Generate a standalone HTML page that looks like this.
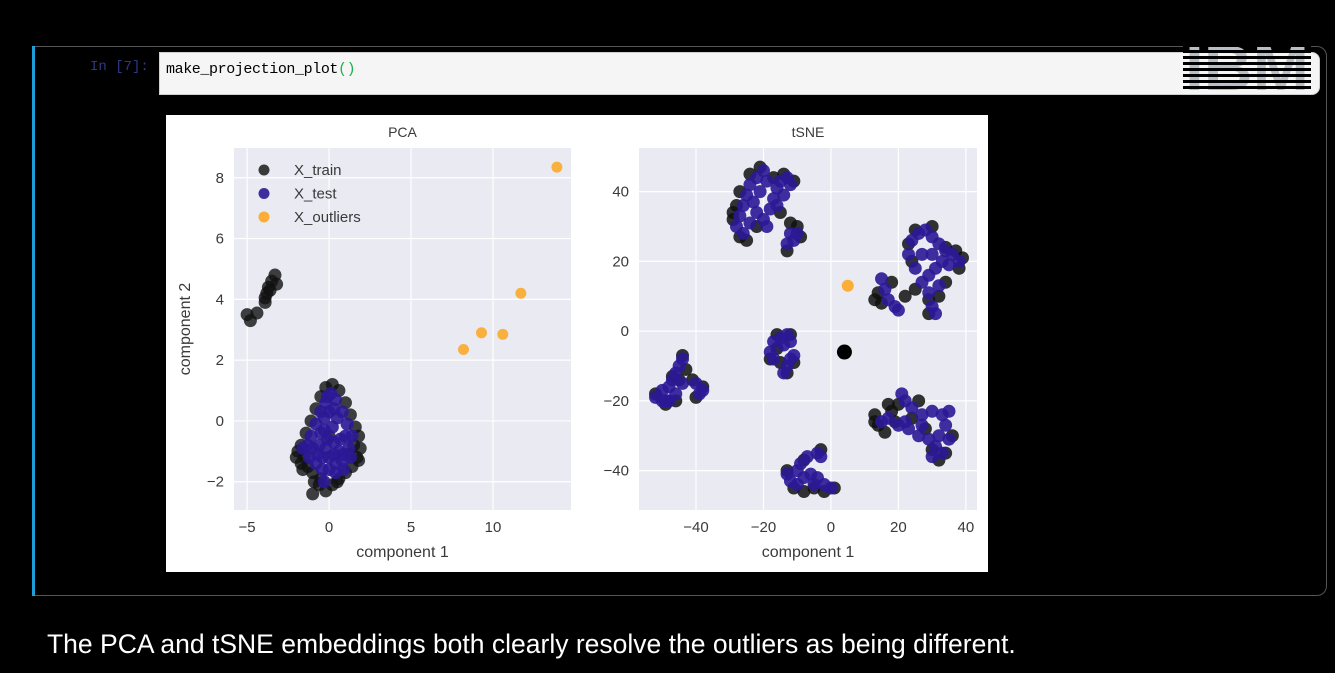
<!DOCTYPE html>
<html><head><meta charset="utf-8">
<style>
html,body{margin:0;padding:0;background:#000;width:1335px;height:673px;overflow:hidden;font-family:"Liberation Sans",sans-serif}
#cell{position:absolute;left:35px;top:46px;width:1291px;height:548px;border:1px solid #555;border-left:none;border-radius:0 10px 10px 0}
#bar{position:absolute;left:32px;top:46px;width:3px;height:550px;background:#1e9fd8}
#prompt{position:absolute;left:90px;top:59px;font:14px "Liberation Mono",monospace;color:#2c3a80}
#input{position:absolute;left:159px;top:52px;width:1161px;height:43px;background:#f5f5f5;border:1px solid #cfcfcf;border-radius:0 8px 8px 0;box-sizing:border-box}
#code{position:absolute;left:6px;top:8px;font:15px "Liberation Mono",monospace;color:#000;letter-spacing:-0.4px}
#caption{position:absolute;left:47px;top:629px;font-size:26.5px;color:#fff}
</style></head><body>
<div id="bar"></div>
<div id="cell"></div>
<div id="prompt">In [7]:</div>
<div id="input"><div id="code">make_projection_plot<span style="color:#1bb34a">()</span></div></div>
<svg style="position:absolute;left:1183px;top:40px" width="128" height="54">
<text x="64" y="50" text-anchor="middle" font-family="Liberation Sans" font-weight="bold" font-size="64" fill="#b8bec8" textLength="124" lengthAdjust="spacingAndGlyphs">IBM</text>
<g fill="#000"><rect x="0" y="4" width="128" height="3"/><rect x="0" y="10" width="128" height="3"/><rect x="0" y="16" width="128" height="3"/><rect x="0" y="22" width="128" height="3"/><rect x="0" y="28" width="128" height="3"/><rect x="0" y="34" width="128" height="3"/><rect x="0" y="40" width="128" height="3"/><rect x="0" y="46" width="128" height="3"/></g>
</svg>
<svg id="fig" style="position:absolute;left:0;top:0" width="1335" height="673">
<rect x="166" y="115" width="822" height="457" fill="#fff"/>
</svg>
<div id="caption">The PCA and tSNE embeddings both clearly resolve the outliers as being different.</div>
<script>
// PCA data
const pcaXTicks=[-5,0,5,10];
const pcaYTicks=[-2,0,2,4,6,8];
const pcaTrain=[[-5,3.5],[-4.8,3.3],[-4.4,3.55],[-3.9,3.9],[-3.8,4.2],[-3.7,4.4],[-3.5,4.6],[-3.3,4.8],[-3.2,4.5],[-3.6,4.3],[-3.9,4.05],
[-2.0,-1.2],[-1.9,-1.0],[-1.7,-1.4],[-1.3,-1.5],[-1.0,-1.7],[-0.9,-2.0],[-1.0,-2.4],[-0.2,-2.3],[0.2,-2.1],[0.6,-1.9],[1.0,-1.7],[1.4,-1.5],[1.7,-1.2],[1.9,-0.9],[1.8,-0.5],[1.6,-0.2],[1.3,0.2],[1.0,0.6],[0.6,1.0],[0.2,1.2],[-0.2,1.1],[-0.5,0.8],[-0.8,0.4],[-1.1,0.0],[-1.4,-0.4],[-1.7,-0.8],[1.5,-0.8],[0.5,-2.0],[-0.5,-1.9],[-1.5,-1.2],[0,-0.5],[1.2,-1.1],[-1.6,-1.6],[1.8,-1.3],[-0.6,-2.1]];
const pcaTest=[[-1.6,-0.9],[-1.2,-1.2],[-0.8,-1.4],[-0.4,-1.6],[-0.3,-2.0],[0.0,-1.6],[0.4,-1.4],[0.8,-1.3],[1.2,-0.9],[1.4,-0.5],[1.1,-0.1],[0.8,0.3],[0.4,0.7],[0.1,0.9],[-0.2,0.6],[-0.5,0.3],[-0.8,-0.1],[-1.1,-0.5],[-0.6,-0.8],[-0.2,-0.9],[0.3,-0.7],[0.7,-0.6],[0.2,-0.2],[-0.3,-0.3],[0.0,0.3],[0.5,0.1],[-1.3,-0.8],[0.9,-1.6],[0.3,-1.1],[-0.7,-1.1],
[-0.4,-1.2],[0.0,-1.2],[0.6,-1.0],[1.0,-0.5],[-1.0,-0.9],[-0.3,0.1],[0.3,0.4],[-0.1,-0.6],[0.9,-1.1],[-0.5,-0.4],[0.4,-1.7],[-0.1,0.8],[1.3,-1.2]];
const pcaOutliers=[[8.2,2.35],[9.3,2.9],[10.6,2.85],[11.7,4.2],[13.9,8.35]];
// tSNE data
const tsneXTicks=[-40,-20,0,20,40];
const tsneYTicks=[-40,-20,0,20,40];
const tsneTest=[[-28,30],[-27,33],[-26,36],[-25,39],[-24,42],[-22,44],[-20,46],[-19,43],[-21,40],[-23,37],[-22,34],[-20,32],[-18,35],[-17,38],[-16,41],[-15,43],[-13,44],[-12,42],[-14,39],[-16,36],[-24,31],[-19,30],[-12,28],[-11,26],[-13,25],[-10,28],[-26,28],
[24,26],[26,28],[28,29],[30,27],[32,25],[34,23],[36,22],[38,20],[35,19],[33,20],[31,18],[29,16],[27,14],[25,18],[27,22],[30,22],[29,11],[30,7],[31,5],[32,13],[15,15],[16,12],[17,9],[19,7],[20,6],[23,22],
[-18,-6],[-17,-3],[-15,-2],[-13,-1],[-12,-3],[-14,-4],[-17,-8],[-12,-8],[-13,-10],[-14,-12],[-11,-7],
[-52,-19],[-50,-17],[-49,-20],[-48,-16],[-47,-14],[-46,-12],[-45,-10],[-44,-8],[-46,-18],[-48,-20],[-44,-15],[-40,-15],[-39,-18],[-38,-17],[-50,-20],
[-13,-41],[-12,-43],[-10,-44],[-8,-42],[-6,-41],[-4,-42],[-2,-44],[0,-45],[-9,-38],[-7,-36],[-4,-35],[-3,-36],[-10,-40],[-5,-44],
[15,-26],[17,-25],[20,-27],[22,-20],[24,-22],[27,-24],[30,-23],[33,-24],[35,-23],[34,-27],[32,-30],[31,-33],[33,-35],[29,-31],[26,-30],[27,-27],[23,-28],[21,-18],[22,-26],[35,-31],[30,-36]];
const tsneTrain=[[-29,32],[-28,36],[-27,40],[-24,45],[-21,47],[-17,44],[-14,45],[-11,43],[-15,34],[-27,27],[-22,30],[-12,31],[-10,30],[-13,23],[-9,27],[-29,34],[-25,26],
[23,25],[25,29],[30,30],[34,24],[37,23],[39,21],[38,18],[34,14],[32,10],[29,9],[25,12],[24,20],[13,9],[14,11],[22,10],[18,14],[15,8],[29,5],
[-18,-8],[-16,-1],[-12,-1],[-15,-9],[-11,-9],[-13,-12],[-16,-5],
[-52,-18],[-49,-21],[-46,-20],[-44,-7],[-43,-11],[-45,-14],[-40,-19],[-38,-16],[-41,-14],[-47,-13],
[-13,-40],[-11,-45],[-8,-46],[-5,-45],[-2,-46],[1,-45],[-8,-37],[-3,-34],
[13,-24],[14,-27],[16,-29],[18,-23],[20,-21],[19,-26],[24,-25],[26,-20],[28,-28],[34,-35],[32,-37],[30,-34],[36,-30],[13,-26],[17,-21]];
const tsneSingle=[[4,-6]];
const tsneOutliers=[[5,13]];

const NS="http://www.w3.org/2000/svg";
const svg=document.getElementById('fig');
function mk(tag,attrs,parent){const e=document.createElementNS(NS,tag);for(const k in attrs)e.setAttribute(k,attrs[k]);(parent||svg).appendChild(e);return e;}

function panel(o){
  const sx=v=>o.x0+(v-o.xmin)/(o.xmax-o.xmin)*o.w;
  const sy=v=>o.y0+o.h-(v-o.ymin)/(o.ymax-o.ymin)*o.h;
  const g=mk('g',{});
  
  
  const bg=mk('rect',{x:o.x0,y:o.y0,width:o.w,height:o.h,fill:'#eaeaf2'},g);
  
  
  o.xt.forEach(t=>{
    mk('line',{x1:sx(t),x2:sx(t),y1:o.y0,y2:o.y0+o.h,stroke:'#fff','stroke-width':1.2},g);
    const tx=mk('text',{x:sx(t),y:o.y0+o.h+22,'text-anchor':'middle','font-size':15,fill:'#3a3a3a'},g);
    tx.textContent=t<0?'\u2212'+(-t):t;
    
    
  });
  o.yt.forEach(t=>{
    mk('line',{x1:o.x0,x2:o.x0+o.w,y1:sy(t),y2:sy(t),stroke:'#fff','stroke-width':1.2},g);
    const tx=mk('text',{x:o.x0-10,y:sy(t)+5,'text-anchor':'end','font-size':15,fill:'#3a3a3a'},g);
    tx.textContent=t<0?'\u2212'+(-t):t;
    
    
  });
  o.series.forEach(s=>{
    s.data.forEach(p=>{
      const c=mk('circle',{cx:sx(p[0]),cy:sy(p[1]),r:s.r||5.5,fill:s.color,'fill-opacity':s.op},g);
      
      
    });
  });
  const ti=mk('text',{x:o.x0+o.w/2,y:o.y0-11,'text-anchor':'middle','font-size':14,fill:'#3a3a3a'},g);
  ti.textContent=o.title;
  
  
  const xl=mk('text',{x:o.x0+o.w/2,y:o.y0+o.h+47,'text-anchor':'middle','font-size':16,fill:'#3a3a3a'},g);
  xl.textContent='component 1';
  
  
  return {sx,sy,g};
}
panel({name:'pca',title:'PCA',x0:234,y0:148,w:337,h:362,xmin:-5.8,xmax:14.76,ymin:-2.93,ymax:8.98,xt:pcaXTicks,yt:pcaYTicks,
 series:[{name:'x-train',data:pcaTrain,color:'#111',op:0.8,r:6.5},{name:'x-test',data:pcaTest,color:'#2a1896',op:0.9,r:6.5},{name:'x-outliers',data:pcaOutliers,color:'#fbad35',op:0.95,r:5.5}]});
const yl=mk('text',{x:0,y:0,'text-anchor':'middle','font-size':16,fill:'#3a3a3a',transform:'translate(190,329) rotate(-90)'});
yl.textContent='component 2';


// legend
[['X_train','#3a3a3a'],['X_test','#3d2f9e'],['X_outliers','#fbad35']].forEach((l,i)=>{
  const c=mk('circle',{cx:264,cy:170+i*23.5,r:5.5,fill:l[1]});
  
  
  const t=mk('text',{x:294,y:175+i*23.5,'font-size':15,fill:'#3a3a3a'});
  t.textContent=l[0];
  
  
});
panel({name:'tsne',title:'tSNE',x0:639,y0:148,w:338,h:362,xmin:-56.9,xmax:43.3,ymin:-51.3,ymax:52.5,xt:tsneXTicks,yt:tsneYTicks,
 series:[{name:'x-train',data:tsneTrain,color:'#111',op:0.85,r:6.5},{name:'x-test',data:tsneTest,color:'#2a1896',op:0.9,r:6.5},{name:'x-train-single',data:tsneSingle,color:'#000',op:1,r:7.5},{name:'x-outliers',data:tsneOutliers,color:'#fbad35',op:1,r:6}]});
</script>
</body></html>
